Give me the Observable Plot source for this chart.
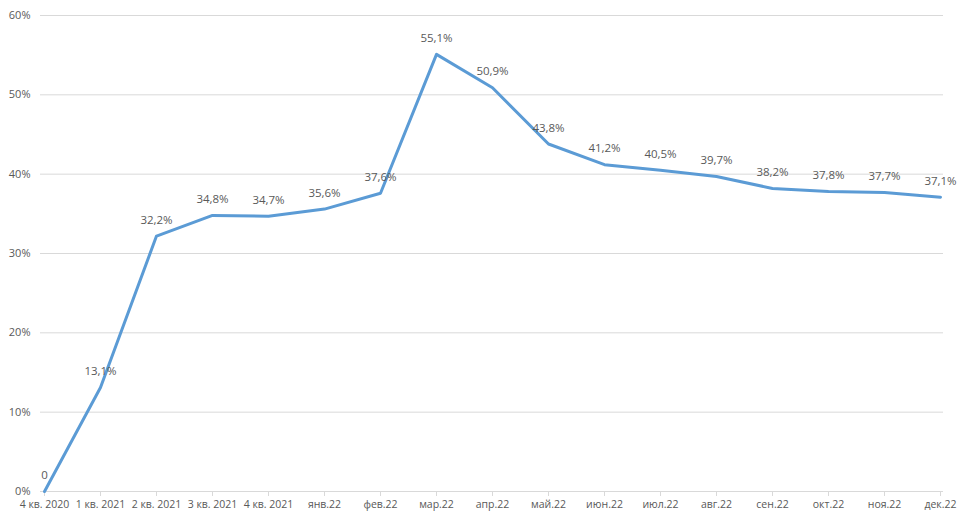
<!DOCTYPE html>
<html>
<head>
<meta charset="utf-8">
<script src="https://cdn.jsdelivr.net/npm/d3@7"></script>
<script src="https://cdn.jsdelivr.net/npm/@observablehq/plot@0.6"></script>
<style>
  html, body { margin: 0; padding: 0; background: #fff; }
  #chart { width: 974px; height: 523px; }
  svg { font-family: "Open Sans", "DejaVu Sans", sans-serif; }
</style>
</head>
<body>
<div id="chart"></div>
<script>
const categories = ["4 кв. 2020", "1 кв. 2021", "2 кв. 2021", "3 кв. 2021", "4 кв. 2021", "янв.22", "фев.22", "мар.22", "апр.22", "май.22", "июн.22", "июл.22", "авг.22", "сен.22", "окт.22", "ноя.22", "дек.22"];
const values = [0, 13.1, 32.2, 34.8, 34.7, 35.6, 37.6, 55.1, 50.9, 43.8, 41.2, 40.5, 39.7, 38.2, 37.8, 37.7, 37.1];
const yTicks = [0, 10, 20, 30, 40, 50, 60];

const data = categories.map((c, i) => ({cat: c, v: values[i]}));
const fmt = v => v === 0 ? "0" : v.toFixed(1).replace(".", ",") + "%";

const chart = Plot.plot({
  width: 974,
  height: 523,
  marginLeft: 40,
  marginRight: 31,
  marginTop: 15,
  marginBottom: 32,
  style: {fontSize: "11px", color: "#595959", background: "#fff"},
  x: {type: "point", domain: categories, padding: 0, label: null},
  y: {domain: [0, 60], ticks: yTicks, label: null},
  marks: [
    Plot.ruleY(yTicks, {stroke: "#d9d9d9", strokeWidth: 1}),
    Plot.axisY({ticks: yTicks, tickSize: 0, tickPadding: 10, tickFormat: d => d + "%", fill: "#595959", fontSize: 11}),
    Plot.axisX({tickSize: 5, tickPadding: 4, stroke: "#d9d9d9", fill: "#595959", fontSize: 10.5}),
    Plot.line(data, {x: "cat", y: "v", stroke: "#5B9BD5", strokeWidth: 3, strokeLinejoin: "round"}),
    Plot.text(data, {x: "cat", y: "v", text: d => fmt(d.v), dy: -16, fill: "#595959", fontSize: 11.5})
  ]
});
document.getElementById("chart").appendChild(chart);
</script>
</body>
</html>
